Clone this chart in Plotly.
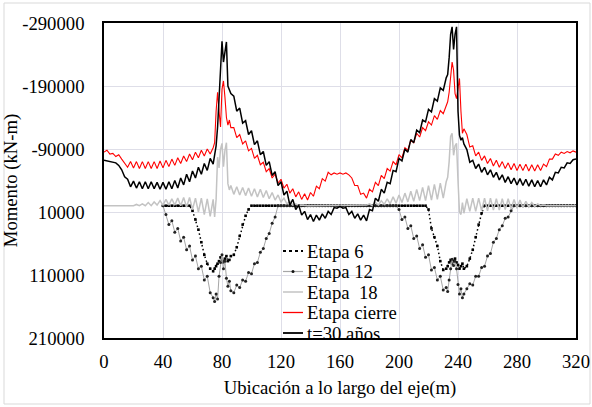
import plotly.graph_objects as go

# ---------------- stations along the axis (m) ----------------
ST_A = list(range(0, 75, 2))      # 0..74
ST_B = list(range(75, 87))        # 75..86 (pier zone, finer)
ST_C = list(range(88, 233, 2))    # 88..232
ST_D = list(range(233, 245))      # 233..244 (pier zone, finer)
ST_E = list(range(246, 321, 2))   # 246..320
ST_A_LATE = [s for s in ST_A if s >= 40]

# ---------------- moments, thousands of kN-m ----------------
T30_A = [-72, -71, -70, -68, -68, -64, -57, -46, -42, -30,
         -39, -28, -38, -27, -38, -27, -38, -27, -37, -26,
         -37, -26, -38, -27, -40, -28, -44, -33, -50, -38,
         -55, -44, -61, -50, -67, -56, -75, -66]
T30_B = [-85, -95, -125, -175, -230, -261, -228, -248, -260, -190, -182, -178]
T30_C = [-174, -150, -155, -131, -135, -113, -119, -97, -103, -81,
         -86, -64, -70, -48, -54, -32, -38, -17, -23, -1,
         -10, 6, -1, 15, 9, 22, 14, 25, 15, 23,
         13, 20, 9, 14, 3, 4, 1, 4, 3, 14,
         9, 20, 13, 23, 15, 24, 6, 8, -12, -7,
         -26, -20, -37, -35, -56, -54, -75, -71, -90, -85,
         -105, -100, -120, -116, -136, -133, -153, -149, -170, -166,
         -187, -183, -203]
T30_D = [-208, -235, -272, -284, -248, -272, -284, -150, -112, -104, -108, -98]
T30_E = [-89, -69, -72, -59, -66, -53, -61, -49, -57, -45,
         -53, -41, -49, -37, -46, -35, -44, -33, -43, -32,
         -42, -31, -41, -30, -40, -30, -41, -33, -45, -41,
         -53, -52, -61, -60, -68, -67, -73, -74]

CIERRE_A = [-85, -88, -82, -83, -78, -81, -74, -68, -61, -70,
            -60, -70, -59, -70, -59, -70, -59, -70, -59, -71,
            -60, -72, -62, -74, -64, -76, -67, -79, -70, -82,
            -73, -85, -76, -88, -79, -90, -82, -92]
CIERRE_B = [-100, -150, -180, -150, -125, -185, -198, -172, -140, -128, -136, -124]
CIERRE_C = [-124, -108, -113, -98, -103, -87, -91, -75, -80, -65,
            -69, -54, -59, -44, -50, -36, -42, -28, -34, -20,
            -27, -14, -22, -10, -19, -9, -21, -15, -31, -27,
            -43, -39, -53, -49, -52, -50, -52, -50, -52, -49,
            -44, -32, -32, -18, -20, -12, -26, -22,
            -37, -32, -48, -43, -59, -55, -70, -65, -81, -76,
            -92, -88, -104, -100, -115, -109, -124, -119, -133, -128,
            -143, -137, -151, -146, -160]
CIERRE_D = [-165, -180, -205, -228, -215, -178, -170, -188, -202, -150, -115, -122]
CIERRE_E = [-113, -93, -95, -79, -85, -72, -79, -67, -75, -63,
            -72, -61, -70, -59, -68, -57, -67, -56, -66, -56,
            -66, -55, -65, -55, -65, -56, -66, -62, -74, -74,
            -82, -80, -85, -83, -86, -84, -87, -85]

E18_A = [0, 0, 0, 0, 0, 0, 0, 0, 0, -1,
         0, -2, 0, -3, 0, -5, 0, -6, -1, -8,
         -1, -10, -1, -11, -1, -12, 0, -13, 2, -13,
         6, -12, 10, -12, 14, -11, 17, -10]
E18_B = [18, -10, -77, -60, -90, -99, -62, -88, -100, -35, -25, -32]
E18_C = ([-18, -30, -17, -29, -16, -28, -15, -27, -14, -26,
          -13, -24, -11, -21, -9, -17, -6, -12, -3, -7,
          -1, -3, 0, -1, 0]
         + [0] * 20
         + [-1, -3, 0, -5, -1, -8, -2, -11, -3, -14,
            -4, -17, -5, -20, -6, -23, -7, -26, -8, -29,
            -8, -32, -9, -34, -10, -36, -12, -38])
E18_D = [-45, -70, -110, -115, -80, -95, -99, -40, 10, 14, -5, 12]
E18_E = [-11, 9, -12, 9, -12, 8, -12, 8, -12, 7,
         -11, 7, -11, 6, -11, 5, -10, 4, -9, 3,
         -7, 2, -5, 1, -3, 0, -1, 0, 0, 0,
         0, 0, 0, 0, 0, 0, 0, 0]

E12_A = [0, 14, 30, 24, 42, 36, 56, 50, 70, 64,
         86, 80, 100, 96, 118, 112, 138, 146]
E12_B = [152, 140, 148, 112, 90, 78, 100, 88, 115, 128, 120, 135]
E12_C = ([138, 126, 130, 118, 120, 106, 108, 92, 90, 74, 68, 52, 44, 28, 18]
         + [0] * 41
         + [6, 22, 18, 36, 32, 52, 48, 68, 62, 82, 78, 102, 98, 118, 112, 134, 130])
E12_D = [136, 118, 100, 85, 95, 88, 100, 125, 140, 132, 146, 140]
E12_E = ([132, 124, 126, 112, 112, 98, 96, 80, 76, 58, 52, 38, 32, 20, 18, 8, 0]
         + [0] * 21)

E6_A = [0] * 10 + [8, 22, 38, 58, 78, 92, 100, 104]
E6_B = [100, 96, 92, 88, 82, 86, 90, 84, 80, 88, 86, 80]
E6_C = [78, 66, 48, 30, 16, 6] + [0] * 60 + [6, 36, 50, 64, 88, 102, 100]
E6_D = [96, 90, 86, 92, 88, 84, 90, 94, 100, 96, 92, 100]
E6_E = [96, 84, 70, 50, 30, 12, 0] + [0] * 31

SERIES_NAMES = ["Etapa 6", "Etapa 12", "Etapa\u00a0 18", "Etapa cierre", "t=30 años"]
Y_TICKS = [-290000, -190000, -90000, 10000, 110000, 210000]
Y_TICK_LABELS = ["-290000", "-190000", "-90000", "10000", "110000", "210000"]
X_TICKS = [0, 40, 80, 120, 160, 200, 240, 280, 320]

# ---------------- assemble ----------------
ST_FULL = ST_A + ST_B + ST_C + ST_D + ST_E
ST_LATE = ST_A_LATE + ST_B + ST_C + ST_D + ST_E


def full(a, b, c, d, e, late=False):
    vals = a + b + c + d + e
    ref = ST_LATE if late else ST_FULL
    assert len(vals) == len(ref), (len(vals), len(ref))
    return [v * 1000 for v in vals]


e6 = full(E6_A, E6_B, E6_C, E6_D, E6_E, late=True)
e12 = full(E12_A, E12_B, E12_C, E12_D, E12_E, late=True)
e18 = full(E18_A, E18_B, E18_C, E18_D, E18_E)
cierre = full(CIERRE_A, CIERRE_B, CIERRE_C, CIERRE_D, CIERRE_E)
t30 = full(T30_A, T30_B, T30_C, T30_D, T30_E)

FONT = "Liberation Serif, Times New Roman, serif"
FS = 18.7

STYLES = [
    dict(line=dict(color="black", width=1.5, dash="1.5px,2.5px"), mode="lines+markers",
         marker=dict(size=2.6, color="black", symbol="square")),
    dict(line=dict(color="#a6a6a6", width=1), mode="lines+markers",
         marker=dict(size=3, color="#222222")),
    dict(line=dict(color="#c3c3c3", width=1.5), mode="lines"),
    dict(line=dict(color="#ff0000", width=1.1), mode="lines"),
    dict(line=dict(color="black", width=1.5), mode="lines"),
]

fig = go.Figure()
for name, xs, ys, st in zip(SERIES_NAMES,
                            [ST_LATE, ST_LATE, ST_FULL, ST_FULL, ST_FULL],
                            [e6, e12, e18, cierre, t30], STYLES):
    fig.add_trace(go.Scatter(x=xs, y=ys, name=name, showlegend=False, **st))

# ---------------- legend (drawn in the plot area, Excel-like tight spacing) ----------------
PLOT_L, PLOT_T, PLOT_W, PLOT_H = 104, 23, 472, 315


def px_x(p):
    return (p - PLOT_L) / PLOT_W


def px_y(p):
    return (PLOT_T + PLOT_H - p) / PLOT_H


LEG_ROWS = [251, 271.5, 292, 312.5, 333]
shapes = []
annotations = []
dash_map = {0: "dot", 1: "solid", 2: "solid", 3: "solid", 4: "solid"}
col_map = ["black", "#a6a6a6", "#c3c3c3", "#ff0000", "black"]
wid_map = [1.8, 1.2, 1.5, 1.3, 1.8]
for i, (name, row) in enumerate(zip(SERIES_NAMES, LEG_ROWS)):
    shapes.append(dict(type="line", xref="paper", yref="paper",
                       x0=px_x(283), x1=px_x(303), y0=px_y(row), y1=px_y(row),
                       line=dict(color=col_map[i], width=wid_map[i], dash=dash_map[i])))
    annotations.append(dict(xref="paper", yref="paper", x=px_x(305), y=px_y(row),
                            xanchor="left", yanchor="middle", showarrow=False,
                            text=name, font=dict(family=FONT, size=FS, color="black")))
# marker dot for Etapa 12 sample
shapes.append(dict(type="circle", xref="paper", yref="paper",
                   x0=px_x(291.5), x1=px_x(294.5), y0=px_y(273), y1=px_y(270),
                   fillcolor="#111111", line=dict(width=0)))
# outer chart-area frame
shapes.append(dict(type="rect", xref="paper", yref="paper",
                   x0=px_x(4), x1=px_x(590), y0=px_y(404), y1=px_y(3),
                   line=dict(color="#d9d9d9", width=1), layer="below"))

axis_common = dict(showgrid=True, gridcolor="#dedee8", gridwidth=1,
                   showline=True, mirror=True, linecolor="black", linewidth=1.5,
                   zeroline=False, ticks="", automargin=False,
                   tickfont=dict(size=FS, color="black"))

fig.update_layout(
    width=592, height=407,
    margin=dict(l=PLOT_L, r=592 - PLOT_L - PLOT_W, t=PLOT_T, b=407 - PLOT_T - PLOT_H,
                autoexpand=False),
    paper_bgcolor="white", plot_bgcolor="white",
    font=dict(family=FONT, size=FS, color="black"),
    showlegend=False,
    xaxis=dict(range=[0, 320], tickvals=X_TICKS,
               title=dict(text="Ubicación a lo largo del eje(m)", font=dict(size=FS), standoff=10),
               ticklabelstandoff=6, **axis_common),
    yaxis=dict(range=[210000, -290000], tickvals=Y_TICKS, ticktext=Y_TICK_LABELS,
               title=dict(text="Momento (kN-m)", font=dict(size=FS), standoff=6),
               ticklabelstandoff=14, **axis_common),
    shapes=shapes,
    annotations=annotations,
)

fig.write_html("out.html")
